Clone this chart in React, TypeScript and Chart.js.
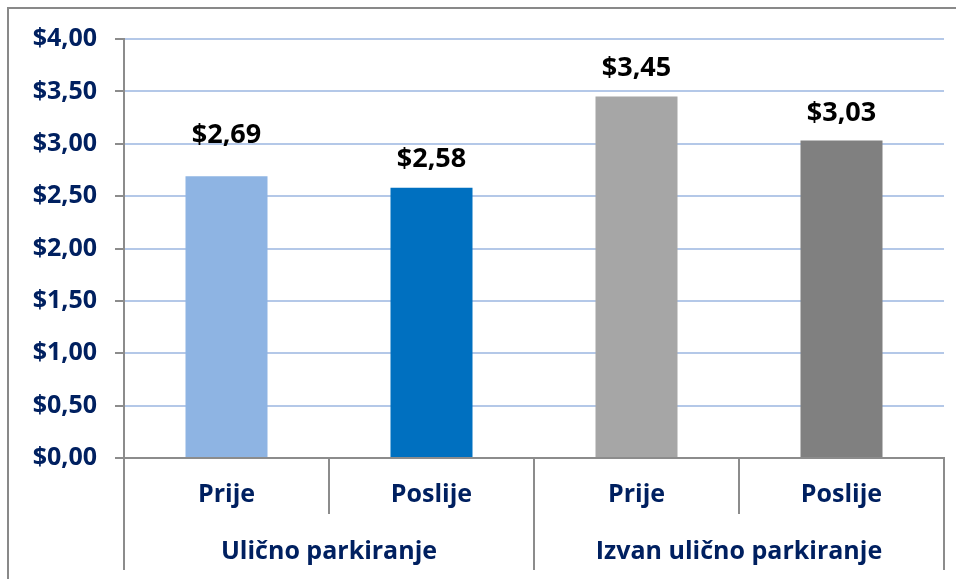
import React, { useEffect, useRef } from "react";
import { Chart, registerables } from "chart.js";

Chart.register(...registerables);

const subLabels = ["Prije", "Poslije", "Prije", "Poslije"];
const groupLabels = ["Ulično parkiranje", "Izvan ulično parkiranje"];
const values = [2.69, 2.58, 3.45, 3.03];
const yMin = 0;
const yMax = 4;
const yStep = 0.5;

const barColors = ["#8EB4E3", "#0070C0", "#A6A6A6", "#808080"];
const labelGaps = [33, 21, 21, 20];

const FONT = "'Open Sans', 'Noto Sans', sans-serif";
const NAVY = "#002060";
const AXIS_GRAY = "#8C8C8C";

const fmt = (v: number) => "$" + v.toFixed(2).replace(".", ",");

const annotatePlugin = {
  id: "annotate",
  afterDatasetsDraw(chart: any) {
    const ctx = chart.ctx;
    const meta = chart.getDatasetMeta(0);
    ctx.save();
    ctx.font = `bold 27px ${FONT}`;
    ctx.fillStyle = "#000000";
    ctx.textAlign = "center";
    ctx.textBaseline = "alphabetic";
    meta.data.forEach((bar: any, i: number) => {
      ctx.fillText(fmt(values[i]), bar.x, bar.y - labelGaps[i]);
    });
    ctx.restore();
  },
  afterDraw(chart: any) {
    const ctx = chart.ctx;
    const x = chart.scales.x;
    const base = chart.chartArea.bottom;
    ctx.save();
    ctx.strokeStyle = AXIS_GRAY;
    ctx.lineWidth = 2;
    for (let i = 0; i <= subLabels.length; i++) {
      const px = Math.round(x.getPixelForValue(i - 0.5));
      const long = i % 2 === 0;
      ctx.beginPath();
      ctx.moveTo(px, base);
      ctx.lineTo(px, base + (long ? 112 : 56));
      ctx.stroke();
    }
    ctx.font = `bold 25px ${FONT}`;
    ctx.fillStyle = NAVY;
    ctx.textAlign = "center";
    ctx.textBaseline = "alphabetic";
    groupLabels.forEach((g, gi) => {
      const cx = (x.getPixelForValue(gi * 2) + x.getPixelForValue(gi * 2 + 1)) / 2;
      ctx.fillText(g, cx, base + 101);
    });
    ctx.restore();
  },
};

export default function App() {
  const ref = useRef<HTMLCanvasElement>(null);
  useEffect(() => {
    if (!ref.current) return;
    const chart = new Chart(ref.current, {
      type: "bar",
      data: {
        labels: subLabels,
        datasets: [
          {
            data: values,
            backgroundColor: barColors,
            borderWidth: 0,
            barPercentage: 0.4,
            categoryPercentage: 1.0,
          },
        ],
      },
      options: {
        responsive: false,
        animation: false,
        devicePixelRatio: 1,
        layout: { padding: { top: 39, right: 12, left: 0, bottom: 0 } },
        plugins: {
          legend: { display: false },
          tooltip: { enabled: false },
        },
        scales: {
          x: {
            grid: { display: false, drawTicks: false },
            border: { display: true, color: AXIS_GRAY, width: 2 },
            ticks: {
              color: NAVY,
              padding: 22,
              font: { family: FONT, size: 25, weight: "bold" },
            },
            afterFit: (s: any) => {
              s.height = 121;
            },
          },
          y: {
            min: yMin,
            max: yMax,
            grid: {
              color: "#B4C8E8",
              lineWidth: 2,
              tickLength: 9,
              tickColor: AXIS_GRAY,
              tickWidth: 2,
            },
            border: { display: true, color: AXIS_GRAY, width: 2 },
            ticks: {
              stepSize: yStep,
              color: NAVY,
              padding: 18,
              font: { family: FONT, size: 25, weight: "bold" },
              callback: (v: any) => fmt(Number(v)),
            },
            afterFit: (s: any) => {
              s.width = 124;
            },
          },
        },
      },
      plugins: [annotatePlugin],
    });
    return () => chart.destroy();
  }, []);

  return (
    <div style={{ position: "fixed", left: 0, top: 0, width: 956, height: 579, overflow: "hidden", background: "#fff" }}>
      <div
        style={{
          position: "absolute",
          left: 7,
          top: 7,
          width: 2000,
          height: 2000,
          borderLeft: "2px solid #898989",
          borderTop: "2px solid #898989",
        }}
      />
      <canvas ref={ref} width={956} height={579} style={{ position: "absolute", left: 0, top: 0, width: 956, height: 579 }} />
    </div>
  );
}
